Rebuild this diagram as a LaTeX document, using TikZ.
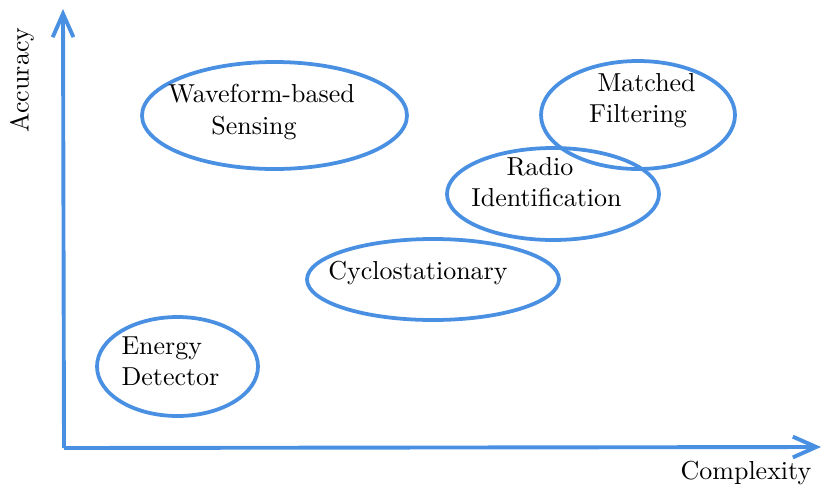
\documentclass[tikz,border=0pt]{standalone}
\usetikzlibrary{shapes.geometric,arrows.meta}
\definecolor{axisblue}{RGB}{74,144,226}
\begin{document}
\begin{tikzpicture}[x=0.385pt,y=-0.385pt,
  blob/.style={draw=axisblue,line width=1.45pt,ellipse,inner sep=0pt},
  lbl/.style={align=center,inner sep=0pt,font=\normalsize},
  axis/.style={draw=axisblue,line width=1.5pt,-{Straight Barb[length=9pt,width=8pt,line width=1.5pt]}}]
\useasboundingbox (0,0) rectangle (824,489);
% axes
\coordinate (O) at (64,448);
\coordinate (ytip) at (63,9);
\coordinate (xtip) at (821,447);
\draw[axis] (O) -- (ytip);
\draw[axis] (O) -- (xtip);
\node[rotate=90,inner sep=0pt] (acc) at (22,80) {Accuracy};
\node[inner sep=0pt] (cx) at (746,473) {Complexity};
% ellipses
\node[blob,minimum width=265*0.385pt,minimum height=107*0.385pt] (wf) at (274.5,115.5) {};
\node[blob,minimum width=194*0.385pt,minimum height=108*0.385pt] (mf) at (638,115) {};
\node[blob,minimum width=212*0.385pt,minimum height=92*0.385pt] (ri) at (553,194) {};
\node[blob,minimum width=252*0.385pt,minimum height=81*0.385pt] (cs) at (433,279.5) {};
\node[blob,minimum width=161*0.385pt,minimum height=99*0.385pt] (ed) at (177.5,366.5) {};
% labels
\node[lbl] (wft) at (254,112) {\hspace*{5.8pt}Waveform-based\\Sensing};
\node[lbl] (mft) at (638,101) {\hspace*{6.6pt}Matched\\Filtering};
\node[lbl] (rit) at (540,182) {Radio\\\hspace*{5pt}Identification};
\node[lbl] (cst) at (418,273) {Cyclostationary};
\node[lbl,align=left,anchor=west] (edt) at (121,361) {Energy\\Detector};
\end{tikzpicture}
\end{document}
